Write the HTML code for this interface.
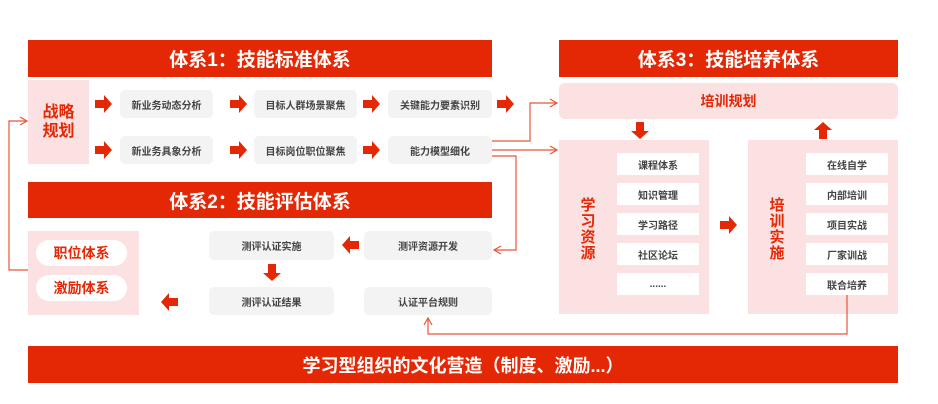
<!DOCTYPE html>
<html><head><meta charset="utf-8"><style>
*{margin:0;padding:0;box-sizing:border-box}
body{width:938px;height:404px;background:#fff;position:relative;overflow:hidden;font-family:"Liberation Sans","Noto Sans CJK SC",sans-serif}
.a{position:absolute;display:flex;align-items:center;justify-content:center;text-align:center}
.ban{background:#e42805;color:#fff;font-weight:bold;font-size:19px}
.g{background:#f3f3f3;border-radius:5px;color:#444;font-size:10px;font-weight:bold}
.pk{background:#fbe1e1}
.w{background:#fff;color:#444;font-size:10px;font-weight:bold}
.rt{color:#e42805;font-weight:bold}
svg{position:absolute;left:0;top:0}
</style></head><body>
<div class="a ban" style="left:28px;top:40px;width:464px;height:37px">体系1：技能标准体系</div>
<div class="a ban" style="left:559px;top:40px;width:339px;height:37px">体系3：技能培养体系</div>
<div class="a ban" style="left:28px;top:182px;width:464px;height:36px">体系2：技能评估体系</div>
<div class="a ban" style="left:28px;top:346px;width:870px;height:37px;font-size:18px">学习型组织的文化营造（制度、激励...）</div>

<div class="a pk rt" style="left:28px;top:80px;width:61px;height:84px;font-size:16px;line-height:19px">战略<br>规划</div>
<div class="a g" style="left:120px;top:90px;width:93px;height:28px">新业务动态分析</div>
<div class="a g" style="left:254px;top:90px;width:103px;height:28px">目标人群场景聚焦</div>
<div class="a g" style="left:388px;top:90px;width:104px;height:28px">关键能力要素识别</div>
<div class="a g" style="left:120px;top:136px;width:93px;height:28px">新业务具象分析</div>
<div class="a g" style="left:254px;top:136px;width:103px;height:28px">目标岗位职位聚焦</div>
<div class="a g" style="left:388px;top:136px;width:104px;height:28px">能力模型细化</div>

<div class="a pk" style="left:28px;top:231px;width:111px;height:84px"></div>
<div class="a rt" style="left:36px;top:240px;width:91px;height:26px;background:#fff;border-radius:13px;font-size:14px">职位体系</div>
<div class="a rt" style="left:36px;top:275px;width:91px;height:26px;background:#fff;border-radius:13px;font-size:14px">激励体系</div>
<div class="a g" style="left:209px;top:231px;width:125px;height:29px">测评认证实施</div>
<div class="a g" style="left:364px;top:231px;width:128px;height:29px">测评资源开发</div>
<div class="a g" style="left:209px;top:287px;width:125px;height:28px">测评认证结果</div>
<div class="a g" style="left:364px;top:287px;width:128px;height:28px">认证平台规则</div>

<div class="a pk rt" style="left:559px;top:83px;width:339px;height:36px;border-radius:6px;font-size:14px">培训规划</div>
<div class="a pk" style="left:559px;top:140px;width:150px;height:174px"></div>
<div class="a pk" style="left:748px;top:140px;width:150px;height:174px"></div>
<div class="a rt" style="left:576px;top:160px;width:24px;height:140px;font-size:15px;line-height:16px">学<br>习<br>资<br>源</div>
<div class="a rt" style="left:765px;top:160px;width:24px;height:140px;font-size:15px;line-height:16px">培<br>训<br>实<br>施</div>
<div class="a w" style="left:617px;top:153px;width:82px;height:22px">课程体系</div>
<div class="a w" style="left:617px;top:183px;width:82px;height:22px">知识管理</div>
<div class="a w" style="left:617px;top:213px;width:82px;height:22px">学习路径</div>
<div class="a w" style="left:617px;top:243px;width:82px;height:22px">社区论坛</div>
<div class="a w" style="left:617px;top:273px;width:82px;height:22px">......</div>
<div class="a w" style="left:806px;top:153px;width:82px;height:22px">在线自学</div>
<div class="a w" style="left:806px;top:183px;width:82px;height:22px">内部培训</div>
<div class="a w" style="left:806px;top:213px;width:82px;height:22px">项目实战</div>
<div class="a w" style="left:806px;top:243px;width:82px;height:22px">厂家训战</div>
<div class="a w" style="left:806px;top:273px;width:82px;height:22px">联合培养</div>

<svg width="938" height="404">
<defs>
<g id="ar"><path d="M0,-4 H9 V-9 L17,0 L9,9 V4 H0 Z" fill="#e42805"/></g>
</defs>
<use href="#ar" x="95" y="104"/><use href="#ar" x="230" y="104"/><use href="#ar" x="363" y="104"/><use href="#ar" x="497" y="104"/>
<use href="#ar" x="95" y="150"/><use href="#ar" x="230" y="150"/><use href="#ar" x="363" y="150"/>
<use href="#ar" transform="translate(359,245) scale(-1,1)"/>
<use href="#ar" transform="translate(178,302) scale(-1,1)"/>
<use href="#ar" transform="translate(720,225)"/>
<use href="#ar" transform="translate(272,264) rotate(90)"/>
<use href="#ar" transform="translate(640,122) rotate(90)"/>
<use href="#ar" transform="translate(823,139) rotate(-90)"/>
<g fill="none" stroke="#e8553a" stroke-width="1.2">
<path d="M492,141 H530 V103 H556"/><path d="M550,99 L557,103 L550,107"/>
<path d="M492,150 H556"/><path d="M550,146 L557,150 L550,154"/>
<path d="M492,156 H516 V250 H495"/><path d="M501,246 L494,250 L501,254"/>
<path d="M28,270 H9 V121 H26"/><path d="M20,117 L27,121 L20,125"/>
<path d="M847,295 V334 H428 V319"/><path d="M424,325 L428,318 L432,325"/>
</g>
</svg>
</body></html>
